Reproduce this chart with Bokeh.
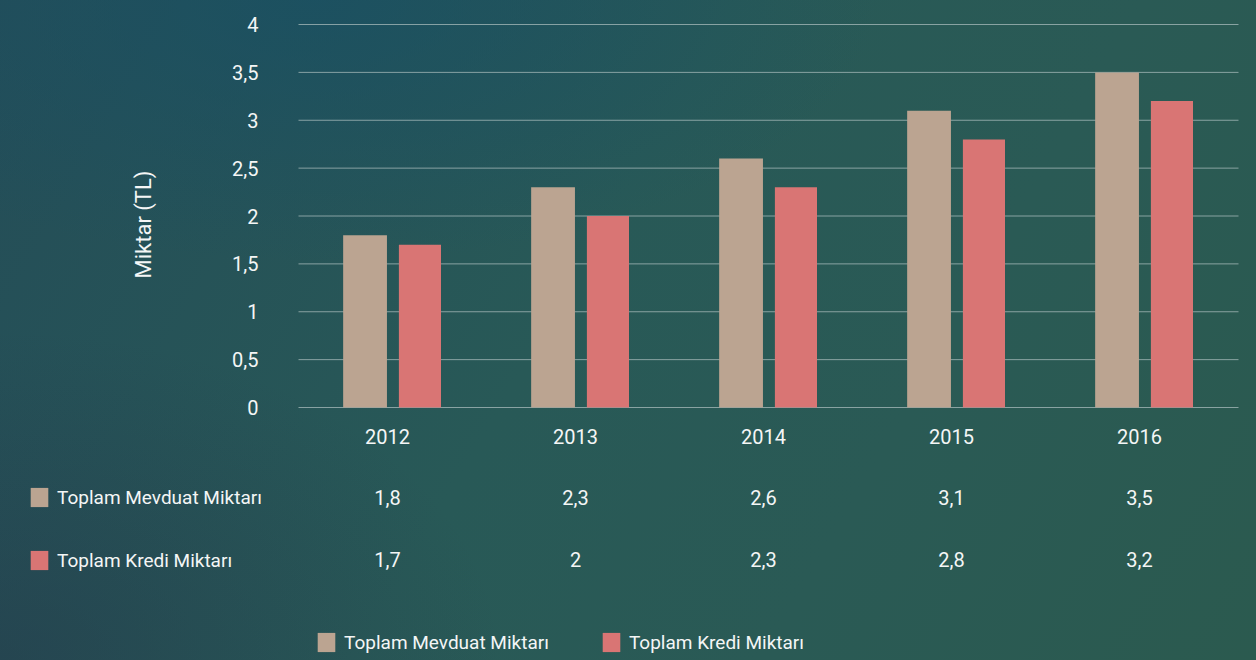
from bokeh.plotting import figure
from bokeh.models import (Range1d, FixedTicker, LinearAxis, Legend, LegendItem,
                          GlobalInlineStyleSheet, ColumnDataSource)
from bokeh.embed import file_html
from bokeh.resources import INLINE

# ---- data ----
years = ["2012", "2013", "2014", "2015", "2016"]
mevduat = [1.8, 2.3, 2.6, 3.1, 3.5]
kredi = [1.7, 2.0, 2.3, 2.8, 3.2]
series_names = ["Toplam Mevduat Miktarı", "Toplam Kredi Miktarı"]
y_ticks = [0, 0.5, 1, 1.5, 2, 2.5, 3, 3.5, 4]
y_label = "Miktar (TL)"

def tr(v):
    return ("%g" % v).replace(".", ",")

FONT = "Roboto"
WHITE = "#f4f6f6"
BEIGE = "#bba491"
RED = "#d97574"

W, H = 1256, 660
# layout of the plotting area inside the canvas (pixels)
AREA_L, AREA_R, AREA_T, AREA_B = 298, 1238, 24, 407
n = len(years)
px_x = (AREA_R - AREA_L) / n              # px per category
px_y = (AREA_B - AREA_T) / y_ticks[-1]    # px per unit
x_start = -AREA_L / px_x
x_end = n + (W - AREA_R) / px_x
y_start = -(H - AREA_B) / px_y
y_end = y_ticks[-1] + AREA_T / px_y

centers = [i + 0.5 for i in range(n)]
label_shift = -5 / px_x                   # table text sits slightly left of group centre
label_pos = [c + label_shift for c in centers]

bg_css = """
html {
  height: 100%;
  background:
    radial-gradient(ellipse 40% 50% at 0% 100%, rgba(36,52,72,0.45) 0%, rgba(36,52,72,0) 100%),
    radial-gradient(ellipse 45% 40% at 25% 0%, rgba(24,80,100,0.7) 0%, rgba(24,80,100,0) 100%),
    linear-gradient(120deg, #244d58 0%, #285957 45%, #2a5a55 70%, #2b5a4f 100%);
  background-attachment: fixed;
}
body { background: transparent; }
"""

p = figure(width=W, height=H, output_backend="svg", toolbar_location=None,
           x_range=Range1d(x_start, x_end), y_range=Range1d(y_start, y_end),
           min_border=0, x_axis_type=None, y_axis_type=None)
p.stylesheets = [GlobalInlineStyleSheet(css=bg_css)]
p.background_fill_color = None
p.border_fill_color = None
p.outline_line_color = None
p.xgrid.visible = False
p.ygrid.visible = False

# gridlines across the category extent
p.segment(x0=0, x1=n, y0=y_ticks, y1=y_ticks, line_color="#a9bcbc",
          line_alpha=0.75, line_width=1)

src = ColumnDataSource(dict(
    xm=[c - 0.146 for c in centers], xk=[c + 0.146 for c in centers],
    mevduat=mevduat, kredi=kredi))
r1 = p.vbar(x="xm", top="mevduat", width=0.233, source=src,
            fill_color=BEIGE, line_color=None)
r2 = p.vbar(x="xk", top="kredi", width=0.224, source=src,
            fill_color=RED, line_color=None)

def style_axis(ax, standoff):
    ax.axis_line_color = None
    ax.major_tick_line_color = None
    ax.minor_tick_line_color = None
    ax.major_tick_out = 0
    ax.major_tick_in = 0
    ax.minor_tick_out = 0
    ax.major_label_standoff = standoff
    ax.major_label_text_font = FONT
    ax.major_label_text_font_size = "20px"
    ax.major_label_text_color = WHITE

# y axis
ya = LinearAxis(fixed_location=0, ticker=FixedTicker(ticks=y_ticks),
                bounds=(-0.18, y_ticks[-1]),
                major_label_overrides={t: tr(t) for t in y_ticks})
style_axis(ya, 40)
ya.axis_label = y_label
ya.axis_label_text_font = FONT
ya.axis_label_text_font_size = "22px"
ya.axis_label_text_font_style = "normal"
ya.axis_label_text_color = WHITE
ya.axis_label_standoff = 73
p.add_layout(ya, "left")

# x axis (years) and table rows
def row_axis(labels, standoff):
    ax = LinearAxis(fixed_location=0, ticker=FixedTicker(ticks=label_pos),
                    major_label_overrides={c: l for c, l in zip(label_pos, labels)})
    style_axis(ax, standoff)
    p.add_layout(ax, "below")
    return ax

row_axis(years, 21)
row_axis([tr(v) for v in mevduat], 82)
row_axis([tr(v) for v in kredi], 144)

def make_legend(loc, orientation, spacing):
    return Legend(items=[LegendItem(label=series_names[0], renderers=[r1]),
                         LegendItem(label=series_names[1], renderers=[r2])],
                  location=loc, orientation=orientation, spacing=spacing,
                  padding=0, margin=0,
                  glyph_width=22, glyph_height=24, label_standoff=7,
                  label_text_font=FONT, label_text_font_size="19px",
                  label_text_color=WHITE, label_height=24,
                  background_fill_alpha=0, border_line_alpha=0)

p.add_layout(make_legend((28, 88), "vertical", 39))
p.add_layout(make_legend((315, 6), "horizontal", 51))

open("out.html", "w").write(file_html(p, INLINE))
